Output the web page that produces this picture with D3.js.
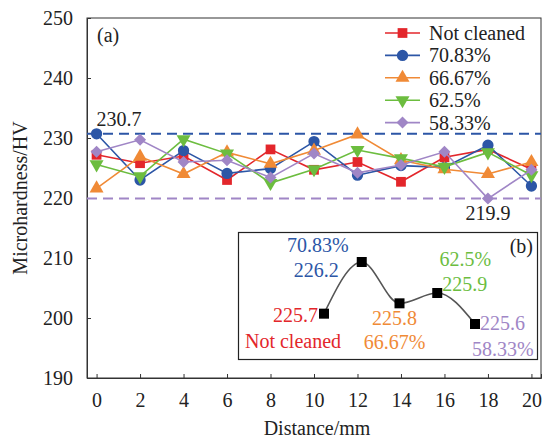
<!DOCTYPE html>
<html>
<head>
<meta charset="utf-8">
<script src="https://cdn.jsdelivr.net/npm/d3@7"></script>
<style>
  html, body { margin: 0; padding: 0; background: #fff; }
  svg { display: block; font-family: "Liberation Serif", "Times New Roman", serif; }
</style>
</head>
<body>
<svg id="chart" width="542" height="439"></svg>
<script>
// Measurement positions along the specimen (mm)
const distances = [0, 2, 4, 6, 8, 10, 12, 14, 16, 18, 20];

// Microhardness (HV) for each cleaning condition
const notCleaned = [227.2, 225.8, 227.0, 223.0, 228.1, 224.7, 226.0, 222.7, 226.8, 228.1, 224.8];
const pct7083    = [230.7, 223.0, 227.9, 224.1, 224.9, 229.4, 223.8, 225.4, 225.1, 228.8, 222.0];
const pct6667    = [221.6, 226.9, 224.0, 227.6, 225.7, 227.9, 230.6, 226.3, 224.8, 224.0, 226.0];
const pct625     = [225.6, 223.6, 229.8, 227.4, 222.5, 224.8, 228.0, 226.6, 225.2, 227.6, 223.8];
const pct5833    = [227.7, 229.7, 226.0, 226.3, 223.4, 227.4, 224.2, 225.5, 227.7, 219.9, 224.7];

const seriesNames = ["Not cleaned", "70.83%", "66.67%", "62.5%", "58.33%"];
const seriesValues = [notCleaned, pct7083, pct6667, pct625, pct5833];

// Mean microhardness per condition (inset b)
const meanValues = [225.7, 226.2, 225.8, 225.9, 225.6];

const yTicks = [190, 200, 210, 220, 230, 240, 250];
const xTicks = [0, 2, 4, 6, 8, 10, 12, 14, 16, 18, 20];

// Extremes marked with reference lines
const maxValue = 230.7;
const minValue = 219.9;

const colors = ["#e3262b", "#2c56a6", "#f08a36", "#6cbd3f", "#a086c6"];
const symbols = [
  d3.symbol().type(d3.symbolSquare).size(95),
  d3.symbol().type(d3.symbolCircle).size(100),
  d3.symbol().type(d3.symbolTriangle).size(85),
  d3.symbol().type(d3.symbolTriangle).size(85),
  d3.symbol().type(d3.symbolSquare).size(72)
];
const symbolRotate = [0, 0, 0, 180, 45];

const svg = d3.select("#chart");
const plotLeft = 87, plotRight = 541, plotTop = 18, plotBottom = 378;

const x = d3.scaleLinear().domain([-0.44, 20.44]).range([plotLeft, plotRight]);
const y = d3.scaleLinear().domain([190, 250]).range([plotBottom, plotTop]);

// Frame
svg.append("rect")
  .attr("x", plotLeft).attr("y", plotTop)
  .attr("width", plotRight - plotLeft).attr("height", plotBottom - plotTop)
  .attr("fill", "none").attr("stroke", "#333").attr("stroke-width", 1);

// Axes with inward ticks
const yAxis = d3.axisLeft(y).tickValues(yTicks).tickSize(-4).tickPadding(14);
const xAxis = d3.axisBottom(x).tickValues(xTicks).tickSize(-4).tickPadding(15);

const gy = svg.append("g").attr("transform", `translate(${plotLeft},0)`).call(yAxis);
const gx = svg.append("g").attr("transform", `translate(0,${plotBottom})`).call(xAxis);
[gx, gy].forEach(g => {
  g.select(".domain").attr("stroke", "#333");
  g.selectAll(".tick line").attr("stroke", "#333");
  g.selectAll(".tick text")
    .attr("font-family", "Liberation Serif, serif")
    .attr("font-size", 20).attr("fill", "#222");
});
gy.selectAll(".tick")
  .filter(d => d === 190 || d === 250)
  .select("line").remove();

// Axis titles
svg.append("text")
  .attr("x", (plotLeft + plotRight) / 2 + 3).attr("y", 435)
  .attr("text-anchor", "middle").attr("font-size", 20).attr("fill", "#222")
  .text("Distance/mm");
svg.append("text")
  .attr("transform", `translate(27,${(plotTop + plotBottom) / 2}) rotate(-90)`)
  .attr("text-anchor", "middle").attr("font-size", 20).attr("fill", "#222")
  .text("Microhardness/HV");

// Max / min reference lines
svg.append("line")
  .attr("x1", plotLeft).attr("x2", plotRight)
  .attr("y1", y(maxValue)).attr("y2", y(maxValue))
  .attr("stroke", colors[1]).attr("stroke-width", 2).attr("stroke-dasharray", "10,6");
svg.append("line")
  .attr("x1", plotLeft).attr("x2", plotRight)
  .attr("y1", y(minValue)).attr("y2", y(minValue))
  .attr("stroke", colors[4]).attr("stroke-width", 2).attr("stroke-dasharray", "10,6");

svg.append("text")
  .attr("x", x(0)).attr("y", y(maxValue) - 8)
  .attr("font-size", 20).attr("fill", "#222")
  .text(maxValue.toFixed(1));
svg.append("text")
  .attr("x", x(18)).attr("y", y(minValue) + 21)
  .attr("text-anchor", "middle")
  .attr("font-size", 20).attr("fill", "#222")
  .text(minValue.toFixed(1));

// Panel label
svg.append("text").attr("x", 97).attr("y", 42)
  .attr("font-size", 20).attr("fill", "#222").text("(a)");

// Data series
const line = d3.line().x((d, i) => x(distances[i])).y(d => y(d));
seriesValues.forEach((vals, s) => {
  const g = svg.append("g");
  g.append("path").datum(vals)
    .attr("d", line).attr("fill", "none")
    .attr("stroke", colors[s]).attr("stroke-width", 1.6);
  g.selectAll("path.m").data(vals).enter().append("path")
    .attr("class", "m")
    .attr("d", symbols[s])
    .attr("transform", (d, i) => `translate(${x(distances[i])},${y(d)}) rotate(${symbolRotate[s]})`)
    .attr("fill", colors[s]);
});

// Legend
const legend = svg.append("g");
seriesNames.forEach((name, s) => {
  const cy = 33 + s * 22.4;
  legend.append("line")
    .attr("x1", 385).attr("x2", 420).attr("y1", cy).attr("y2", cy)
    .attr("stroke", colors[s]).attr("stroke-width", 1.6);
  legend.append("path")
    .attr("d", symbols[s])
    .attr("transform", `translate(402.5,${cy}) rotate(${symbolRotate[s]})`)
    .attr("fill", colors[s]);
  legend.append("text")
    .attr("x", 429).attr("y", cy + 7)
    .attr("font-size", 20).attr("fill", "#222")
    .text(name);
});

// Inset (b): mean microhardness per condition
const inset = svg.append("g");
inset.append("rect")
  .attr("x", 238.5).attr("y", 232.5).attr("width", 299).attr("height", 127)
  .attr("fill", "#fff").attr("stroke", "#222").attr("stroke-width", 1.2);
inset.append("text").attr("x", 533).attr("y", 253)
  .attr("text-anchor", "end").attr("font-size", 20).attr("fill", "#222").text("(b)");

const ix = d3.scaleLinear().domain([0, 4]).range([324, 475]);
const iy = d3.scaleLinear().domain([225.6, 226.2]).range([324, 262]);

inset.append("path").datum(meanValues)
  .attr("d", d3.line().x((d, i) => ix(i)).y(d => iy(d)).curve(d3.curveMonotoneX))
  .attr("fill", "none").attr("stroke", "#555").attr("stroke-width", 1.6);
inset.selectAll("rect.pt").data(meanValues).enter().append("rect")
  .attr("class", "pt")
  .attr("x", (d, i) => ix(i) - 5).attr("y", d => iy(d) - 5)
  .attr("width", 10).attr("height", 10).attr("fill", "#000");

// Value and name labels around each inset point
const labelLayout = [
  { v: ["end", -6, 8], n: ["middle", -31, 34] },
  { v: ["end", -23, 15], n: ["end", -13, -10] },
  { v: ["middle", -5, 22], n: ["middle", -5, 46] },
  { v: ["start", 5, -2], n: ["middle", 28, -27] },
  { v: ["start", 5, 6], n: ["start", -3, 32] }
];
meanValues.forEach((m, i) => {
  const px = ix(i), py = iy(m), L = labelLayout[i];
  inset.append("text")
    .attr("x", px + L.v[1]).attr("y", py + L.v[2])
    .attr("text-anchor", L.v[0]).attr("font-size", 20).attr("fill", colors[i])
    .text(m.toFixed(1));
  inset.append("text")
    .attr("x", px + L.n[1]).attr("y", py + L.n[2])
    .attr("text-anchor", L.n[0]).attr("font-size", 20).attr("fill", colors[i])
    .text(seriesNames[i]);
});
</script>
</body>
</html>
